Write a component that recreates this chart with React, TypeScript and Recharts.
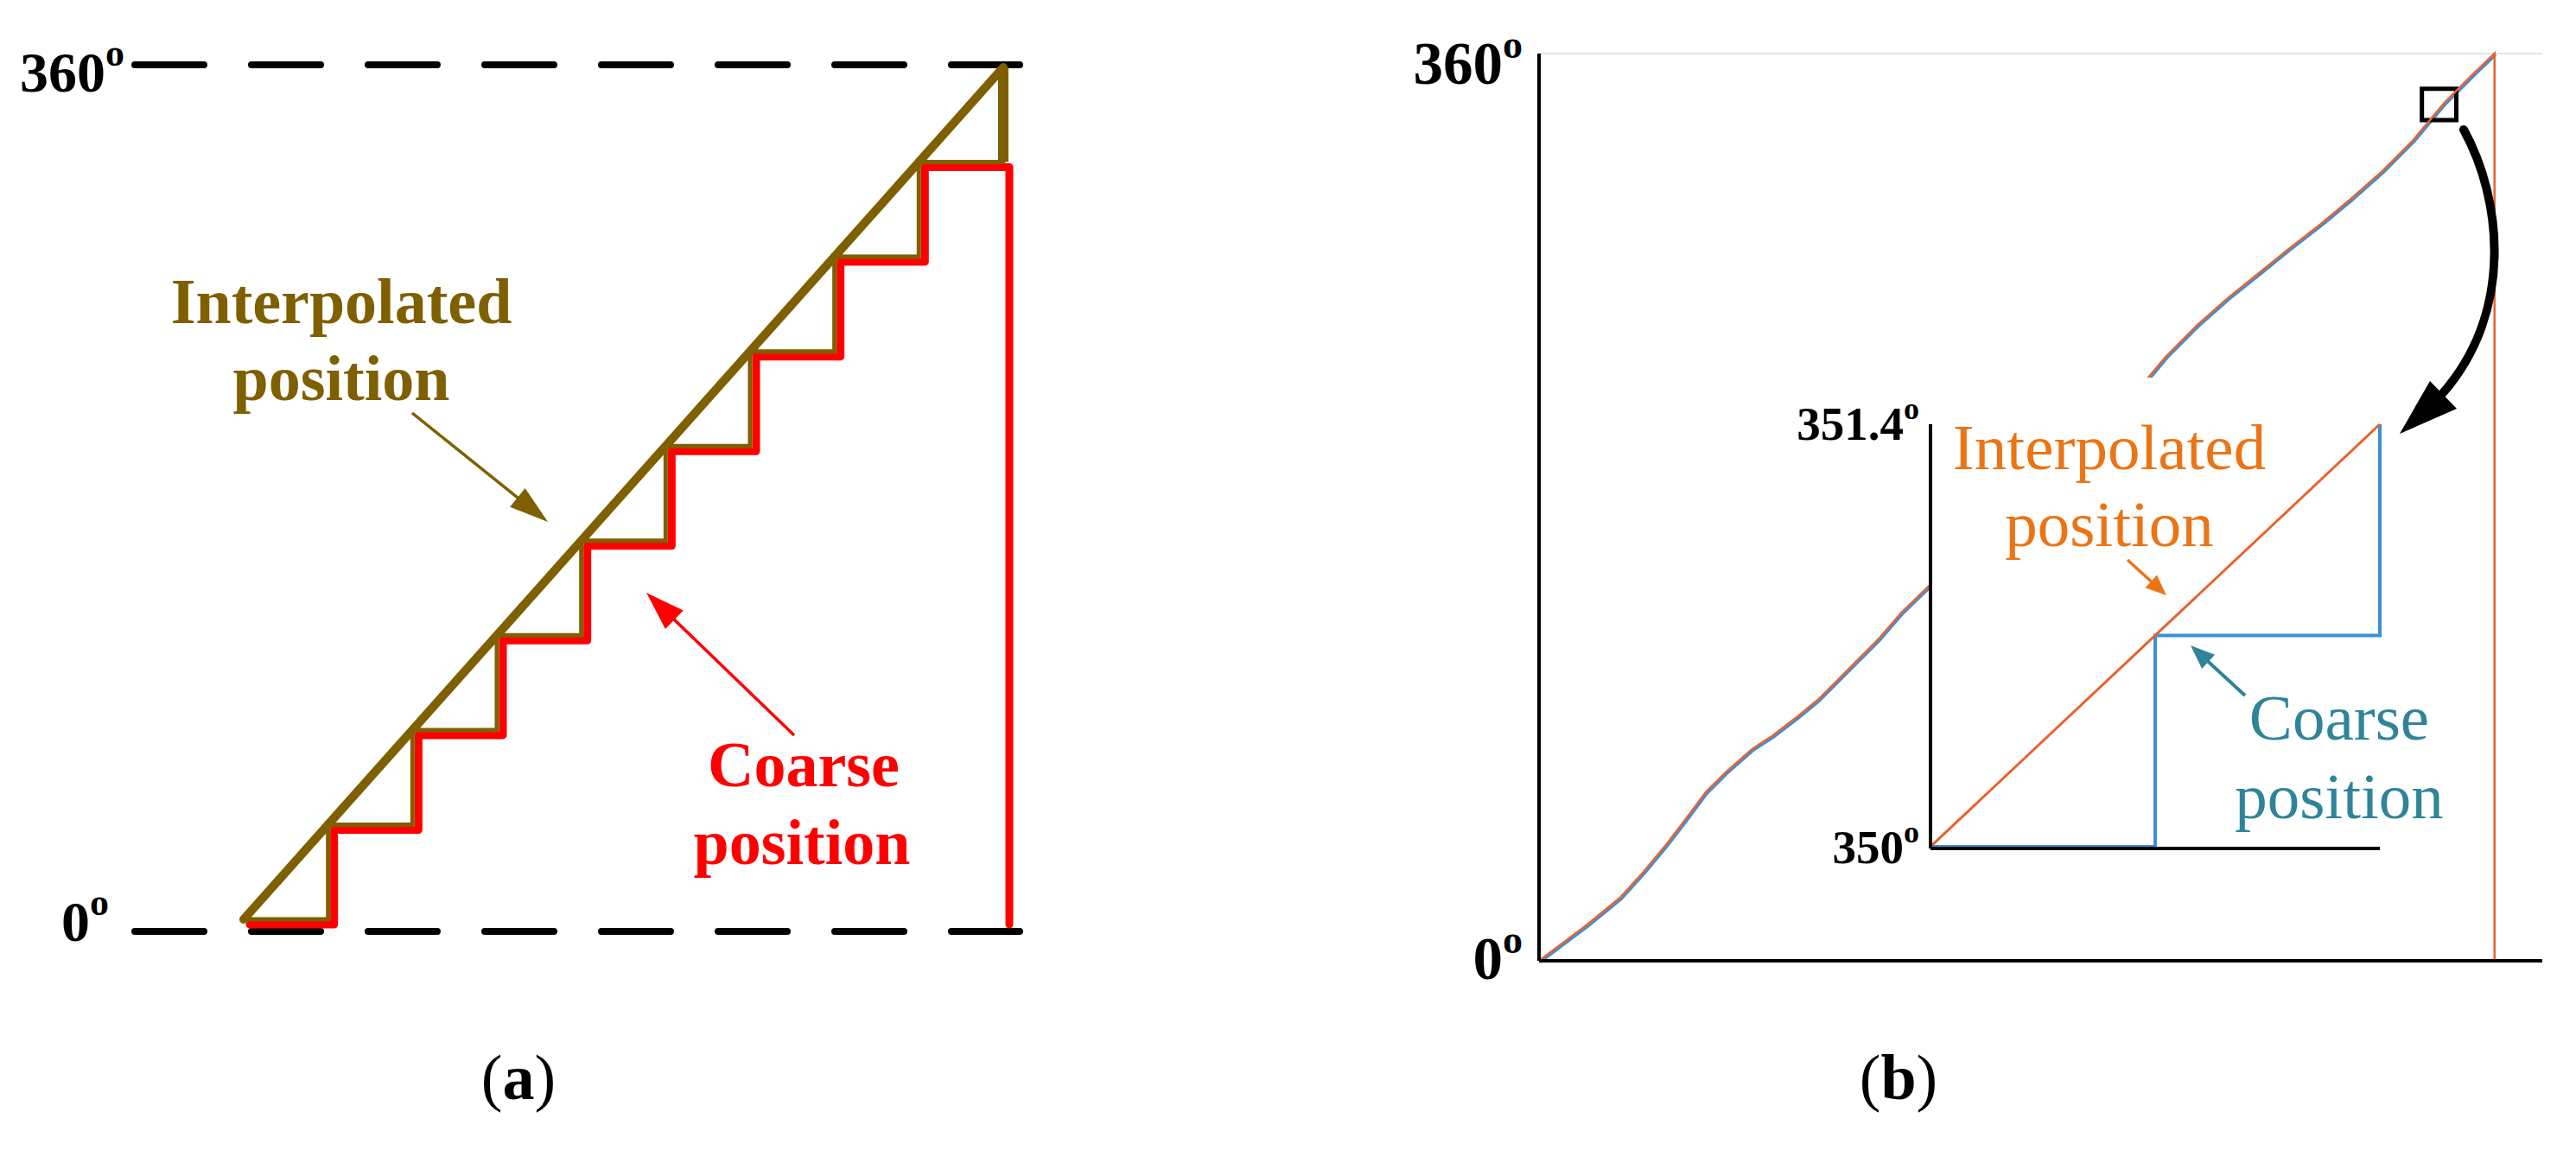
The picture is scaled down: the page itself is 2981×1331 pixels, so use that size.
import React from 'react';
import { ComposedChart, Line, XAxis, YAxis, ReferenceLine, ReferenceArea } from 'recharts';

const SERIF = '"Liberation Serif", "Times New Roman", Times, serif';

// ---------- Panel (a): schematic ----------
const stepTimes = [0, 1, 2, 3, 4, 5, 6, 7, 8, 9];
const interpolatedAngles = [0, 40, 80, 120, 160, 200, 240, 280, 320, 360];
const coarseAngles = [0, 40, 80, 120, 160, 200, 240, 280, 320, 0];
const panelATicks = [0, 360];

// ---------- Panel (b): measured curve ----------
const curveTimes = [0, 5.06, 8.5, 10.94, 13.29, 15.37, 17.45, 19.53, 22.33, 24.41, 27.12, 29.2, 31.28, 33.36, 35.44, 37.88, 40.69, 63.74, 65.64, 68.9, 72.15, 75.32, 78.57, 81.83, 84.99, 88.25, 91.5, 94.76, 97.92, 100, 100];
const curveAngles = [0, 14.4, 25.1, 35.3, 46.0, 56.3, 66.9, 74.8, 84.1, 89.2, 97.1, 103.6, 111.5, 119.4, 127.3, 138.0, 148.3, 231.3, 239.9, 252.3, 263.2, 272.8, 282.8, 292.4, 302.4, 313.3, 325.7, 340.5, 352.5, 360, 0];
const panelBTicks = [0, 360];
const zoomBoxTime = [92.4, 96.0];
const zoomBoxAngle = [333.6, 346.0];

// ---------- Inset ----------
const insetTimes = [0, 1, 2];
const insetInterpolated = [350, 350.7, 351.4];
const insetCoarse = [350, 350.7, 351.4];
const insetLabelTicks = [350, 351.4];
const insetYTicks = [350.08, 350.58, 351.08];
const insetXTicks = [0.19, 0.53, 0.87, 1.21, 1.55, 1.89];

const OLIVE = '#7F6000';
const RED = '#FF0000';
const ORANGE_LINE = '#E8632D';
const BLUE_LINE = '#3D8FD6';
const ORANGE_TEXT = '#EB7415';
const TEAL = '#2F8499';

const aInterp = stepTimes.map((t, i) => ({ t, v: interpolatedAngles[i] }));
const aCoarse = stepTimes.map((t, i) => ({ t, v: coarseAngles[i] }));
const lastStep = stepTimes.length - 1;
const bCurve = curveTimes.map((t, i) => ({ t, v: curveAngles[i] }));
const bCoarse = bCurve.slice(0, bCurve.length - 1);
const insetInterpData = insetTimes.map((t, i) => ({ t, v: insetInterpolated[i] }));
const insetCoarseData = insetTimes.map((t, i) => ({ t, v: insetCoarse[i] }));

type TickCfg = { size: number; sup: number; supDy: number; place: (v: number) => { dx: number; dy: number } };

const makeTick = (cfg: TickCfg) => (props: any) => {
  const { x, y, payload } = props;
  const v = payload.value;
  const p = cfg.place(v);
  return (
    <text x={x + p.dx} y={y + p.dy} textAnchor="end" fontFamily={SERIF} fontWeight="bold" fontSize={cfg.size} fill="#000">
      <tspan>{String(v)}</tspan>
      <tspan fontSize={cfg.sup} dy={cfg.supDy}>o</tspan>
    </text>
  );
};

const aTick = makeTick({ size: 66, sup: 44, supDy: -30, place: (v) => (v === 360 ? { dx: 0, dy: 31 } : { dx: -18, dy: 11 }) });
const bTick = makeTick({ size: 69, sup: 46, supDy: -30, place: (v) => (v === 360 ? { dx: 0, dy: 35 } : { dx: 0, dy: 21 }) });
const insetTick = makeTick({ size: 55, sup: 36, supDy: -24, place: (v) => (v === 350 ? { dx: 0, dy: 19 } : { dx: 0, dy: 18 }) });

const headPoints = (x1: number, y1: number, x2: number, y2: number, len: number, half: number) => {
  const L = Math.hypot(x2 - x1, y2 - y1);
  const ux = (x2 - x1) / L;
  const uy = (y2 - y1) / L;
  const bx = x2 - ux * len;
  const by = y2 - uy * len;
  return `${x2},${y2} ${bx - uy * half},${by + ux * half} ${bx + uy * half},${by - ux * half}`;
};

function Arrow({ x1, y1, x2, y2, color, width, len, half }: any) {
  const L = Math.hypot(x2 - x1, y2 - y1);
  const ux = (x2 - x1) / L;
  const uy = (y2 - y1) / L;
  return (
    <g>
      <line x1={x1} y1={y1} x2={x2 - ux * len * 0.7} y2={y2 - uy * len * 0.7} stroke={color} strokeWidth={width} />
      <polygon points={headPoints(x1, y1, x2, y2, len, half)} fill={color} />
    </g>
  );
}

const abs = (left: number, top: number): React.CSSProperties => ({ position: 'absolute', left, top });

export default function App() {
  return (
    <div style={{ position: 'absolute', left: 0, top: 0, width: 2981, height: 1331, background: '#fff', overflow: 'hidden' }}>
      {/* Panel (a): dashed reference lines and labels */}
      <div style={abs(0, 0)}>
        <ComposedChart width={1300} height={1331} data={aInterp} margin={{ top: 75, right: 120, bottom: 253, left: 0 }}>
          <XAxis type="number" dataKey="t" domain={[0, 9]} hide />
          <YAxis type="number" domain={[0, 360]} ticks={panelATicks} interval={0} width={156} axisLine={false} tickLine={false} tickSize={0} tickMargin={12} tick={aTick} />
          <Line dataKey="v" stroke="none" strokeOpacity={0} strokeWidth={0} dot={false} activeDot={false} legendType="none" isAnimationActive={false} />
          <ReferenceLine y={360} stroke="#000" strokeWidth={8} strokeDasharray="80 55" strokeLinecap="round" />
          <ReferenceLine y={0} stroke="#000" strokeWidth={8} strokeDasharray="80 55" strokeLinecap="round" />
        </ComposedChart>
      </div>
      {/* Panel (a): coarse position (red) */}
      <div style={abs(0, 0)}>
        <ComposedChart width={1300} height={1331} margin={{ top: 84, right: 132, bottom: 261, left: 289 }}>
          <XAxis type="number" dataKey="t" domain={[0, 9]} hide />
          <YAxis type="number" domain={[0, 360]} hide />
          <Line data={aCoarse} dataKey="v" type="stepAfter" stroke={RED} strokeWidth={9} strokeLinejoin="round" strokeLinecap="round" dot={false} isAnimationActive={false} />
        </ComposedChart>
      </div>
      {/* Panel (a): interpolated position (olive) */}
      <div style={abs(0, 0)}>
        <ComposedChart width={1300} height={1331} margin={{ top: 78, right: 139, bottom: 267, left: 282 }}>
          <XAxis type="number" dataKey="t" domain={[0, 9]} hide />
          <YAxis type="number" domain={[0, 360]} hide />
          <Line data={aInterp} dataKey="v" type="stepAfter" stroke={OLIVE} strokeWidth={5} strokeLinejoin="round" dot={false} isAnimationActive={false} />
          <ReferenceLine
            segment={[
              { x: stepTimes[lastStep], y: interpolatedAngles[lastStep - 1] },
              { x: stepTimes[lastStep], y: interpolatedAngles[lastStep] },
            ]}
            stroke={OLIVE}
            strokeWidth={12}
          />
          <Line data={aInterp} dataKey="v" type="linear" stroke={OLIVE} strokeWidth={10} strokeLinecap="round" dot={false} isAnimationActive={false} />
        </ComposedChart>
      </div>

      {/* Panel (b): coarse (blue) underneath, slightly offset */}
      <div style={abs(1600, 0)}>
        <ComposedChart width={1381} height={1331} margin={{ top: 63.5, right: 37.5, bottom: 217.5, left: 182.5 }}>
          <XAxis type="number" dataKey="t" domain={[0, 105]} hide />
          <YAxis type="number" domain={[0, 360]} hide />
          <Line data={bCoarse} dataKey="v" type="linear" stroke={BLUE_LINE} strokeWidth={3} dot={false} isAnimationActive={false} />
        </ComposedChart>
      </div>
      {/* Panel (b): main axes and interpolated curve */}
      <div style={abs(1600, 0)}>
        <ComposedChart width={1381} height={1331} margin={{ top: 62, right: 39, bottom: 209, left: 0 }}>
          <XAxis type="number" dataKey="t" domain={[0, 105]} height={10} tick={false} tickLine={false} axisLine={{ stroke: '#000', strokeWidth: 4 }} />
          <YAxis type="number" domain={[0, 360]} ticks={panelBTicks} interval={0} width={181} tickSize={0} tickMargin={19} tickLine={false} axisLine={{ stroke: '#000', strokeWidth: 4 }} tick={bTick} />
          <ReferenceLine y={360} stroke="#e3e3e3" strokeWidth={2} />
          <Line data={bCurve} dataKey="v" type="linear" stroke={ORANGE_LINE} strokeWidth={2.5} dot={false} isAnimationActive={false} />
          <ReferenceArea x1={zoomBoxTime[0]} x2={zoomBoxTime[1]} y1={zoomBoxAngle[0]} y2={zoomBoxAngle[1]} fill="none" fillOpacity={0} stroke="#000" strokeWidth={5} />
        </ComposedChart>
      </div>

      {/* Inset background */}
      <div style={{ position: 'absolute', left: 2232, top: 437, width: 610, height: 600, background: '#fff' }} />

      {/* Inset chart */}
      <div style={abs(2000, 400)}>
        <ComposedChart width={900} height={650} margin={{ top: 91, right: 146, bottom: 68, left: 0 }}>
          <XAxis type="number" dataKey="t" domain={[0, 2]} ticks={insetXTicks} interval={0} mirror tick={false} tickSize={5} tickLine={{ stroke: '#9a9a9a', strokeWidth: 1.5 }} axisLine={{ stroke: '#000', strokeWidth: 4 }} />
          <YAxis yAxisId="tk" type="number" domain={[349.994, 351.4]} ticks={insetYTicks} interval={0} mirror width={0} tick={false} tickSize={5} tickLine={{ stroke: '#9a9a9a', strokeWidth: 1.5 }} axisLine={false} />
          <YAxis yAxisId="lab" type="number" domain={[349.994, 351.4]} ticks={insetLabelTicks} interval={0} width={234} tickSize={0} tickMargin={13} tickLine={false} axisLine={{ stroke: '#000', strokeWidth: 4 }} tick={insetTick} />
          <Line yAxisId="lab" data={insetCoarseData} dataKey="v" type="stepAfter" stroke={BLUE_LINE} strokeWidth={4} dot={false} isAnimationActive={false} />
          <Line yAxisId="lab" data={insetInterpData} dataKey="v" type="linear" stroke={ORANGE_LINE} strokeWidth={3} dot={false} isAnimationActive={false} />
        </ComposedChart>
      </div>

      {/* Annotations */}
      <svg width={2981} height={1331} style={{ position: 'absolute', left: 0, top: 0, pointerEvents: 'none' }}>
        <g fontFamily={SERIF}>
          {/* panel (a) */}
          <text x={395} y={374} textAnchor="middle" fontSize={74} fontWeight="bold" fill={OLIVE}>Interpolated</text>
          <text x={395} y={463} textAnchor="middle" fontSize={74} fontWeight="bold" fill={OLIVE}>position</text>
          <text x={930} y={910} textAnchor="middle" fontSize={74} fontWeight="bold" fill={RED}>Coarse</text>
          <text x={928} y={1000} textAnchor="middle" fontSize={74} fontWeight="bold" fill={RED}>position</text>
          <Arrow x1={477} y1={478} x2={634} y2={604} color={OLIVE} width={3.5} len={45} half={14} />
          <Arrow x1={919} y1={851} x2={748} y2={686} color={RED} width={3.5} len={45} half={15} />
          <text x={600} y={1272} textAnchor="middle" fontSize={74} fill="#000">
            <tspan>(</tspan><tspan fontWeight="bold">a</tspan><tspan>)</tspan>
          </text>

          {/* panel (b) inset */}
          <text x={2441} y={543} textAnchor="middle" fontSize={75} fill={ORANGE_TEXT}>Interpolated</text>
          <text x={2441} y={632} textAnchor="middle" fontSize={75} fill={ORANGE_TEXT}>position</text>
          <text x={2707} y={856} textAnchor="middle" fontSize={75} fill={TEAL}>Coarse</text>
          <text x={2707} y={947} textAnchor="middle" fontSize={75} fill={TEAL}>position</text>
          <Arrow x1={2462} y1={648} x2={2507} y2={689} color={ORANGE_TEXT} width={3.5} len={24} half={10} />
          <Arrow x1={2598} y1={805} x2={2535} y2={747} color={TEAL} width={4} len={28} half={11} />

          {/* zoom arrow */}
          <path d="M2851,150 C2895,230 2910,360 2826,456" fill="none" stroke="#000" strokeWidth={10} strokeLinecap="round" />
          <polygon points="2777,502 2812,441 2843,473" fill="#000" />

          <text x={2197} y={1272} textAnchor="middle" fontSize={74} fill="#000">
            <tspan>(</tspan><tspan fontWeight="bold">b</tspan><tspan>)</tspan>
          </text>
        </g>
      </svg>
    </div>
  );
}
